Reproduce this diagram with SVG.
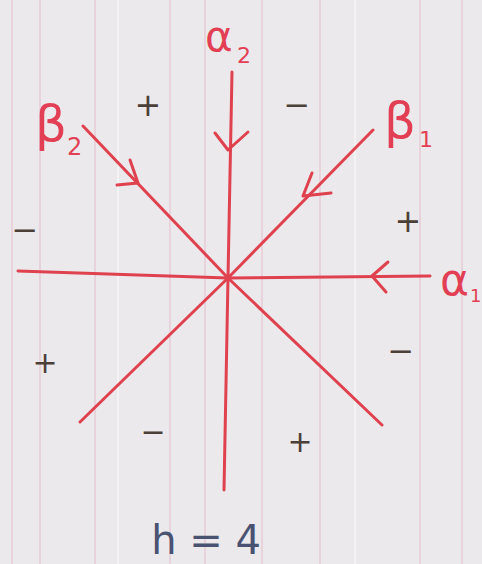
<svg xmlns="http://www.w3.org/2000/svg" width="482" height="564" viewBox="0 0 482 564">
<defs>
<style>
.ln{stroke:#e0414f;stroke-width:3;fill:none;stroke-linecap:round;stroke-linejoin:round}
.lbl{fill:#e23f55;font-family:"DejaVu Sans",sans-serif}
.sg{fill:#4b4038;font-family:"DejaVu Sans",sans-serif;text-anchor:middle}
.st{stroke:#e8d2dc;stroke-width:2}
</style>
</defs>
<rect width="482" height="564" fill="#ebe9eb"/>
<g id="stripes" class="st">
<line x1="12" y1="0" x2="12" y2="564"/><line x1="40" y1="0" x2="40" y2="564"/>
<line x1="95" y1="0" x2="95" y2="564"/><line x1="118" y1="0" x2="118" y2="564" stroke="#f3f3f3"/>
<line x1="170" y1="0" x2="170" y2="564"/><line x1="205" y1="0" x2="205" y2="564"/>
<line x1="262" y1="0" x2="262" y2="564"/><line x1="320" y1="0" x2="320" y2="564"/>
<line x1="355" y1="0" x2="355" y2="564" stroke="#f3f3f3"/><line x1="420" y1="0" x2="420" y2="564"/>
<line x1="462" y1="0" x2="462" y2="564"/>
</g>
<g id="connectors">
<path class="ln" d="M232,72 L228,278 L224,490"/>
<path class="ln" d="M18,271 L228,278 L430,276"/>
<path class="ln" d="M83,126 L228,278 L382,425"/>
<path class="ln" d="M373,130 L228,278 L80,422"/>
<path class="ln" d="M215,133 L228,150 L248,132"/>
<path class="ln" d="M130,160 L138,183 L117,185"/>
<path class="ln" d="M312,173 L303,196 L331,193"/>
<path class="ln" d="M388,262 L372,276 L386,292"/>
</g>
<g id="alpha2"><text class="lbl" x="205" y="51" font-size="42">α</text><text class="lbl" x="237" y="63" font-size="22">2</text></g>
<g id="beta2"><text class="lbl" x="35" y="141" font-size="50">β</text><text class="lbl" x="67" y="155" font-size="24">2</text></g>
<g id="beta1"><text class="lbl" x="384" y="138" font-size="50">β</text><text class="lbl" x="419" y="147" font-size="22">1</text></g>
<g id="alpha1"><text class="lbl" x="440" y="295" font-size="44">α</text><text class="lbl" x="470" y="302" font-size="18">1</text></g>
<g id="signs">
<text class="sg" x="148" y="116" font-size="32">+</text>
<text class="sg" x="297" y="116" font-size="32">−</text>
<text class="sg" x="25" y="241" font-size="32">−</text>
<text class="sg" x="408" y="232" font-size="32">+</text>
<text class="sg" x="45" y="373" font-size="30">+</text>
<text class="sg" x="401" y="362" font-size="32">−</text>
<text class="sg" x="153" y="442" font-size="30">−</text>
<text class="sg" x="300" y="452" font-size="30">+</text>
</g>
<g id="h4"><text x="206" y="554" font-size="40" fill="#4a5272" font-family="DejaVu Sans,sans-serif" text-anchor="middle">h = 4</text></g>
</svg>
